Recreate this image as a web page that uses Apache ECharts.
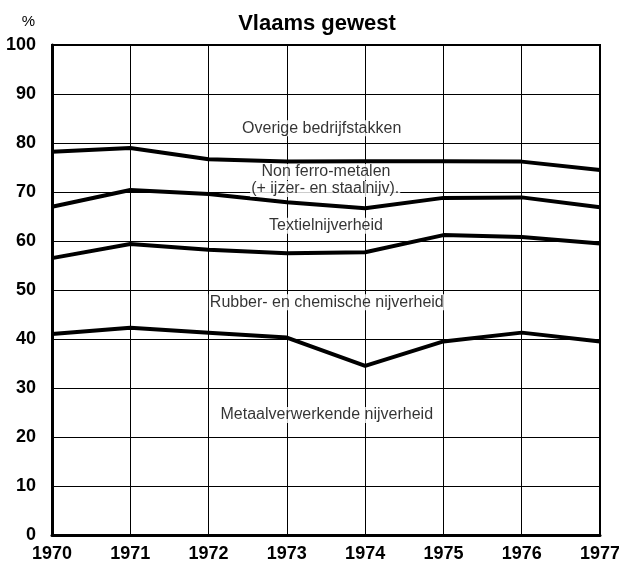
<!DOCTYPE html>
<html>
<head>
<meta charset="utf-8">
<script src="https://cdn.jsdelivr.net/npm/echarts@6/dist/echarts.min.js"></script>
<style>
  html, body { margin: 0; padding: 0; background: #fff; }
  #chart { width: 619px; height: 565px; }
</style>
</head>
<body>
<div id="chart"></div>
<script>
// jaren
var years = [1970, 1971, 1972, 1973, 1974, 1975, 1976, 1977];

// cumulatieve aandelen (%)
var lijnOverige = [78.2, 79.0, 76.7, 76.2, 76.3, 76.3, 76.2, 74.5];
var lijnNonFerro = [67.0, 70.4, 69.6, 67.9, 66.7, 68.8, 68.9, 66.9];
var lijnTextiel = [56.5, 59.4, 58.2, 57.5, 57.7, 61.2, 60.8, 59.5];
var lijnRubber = [41.0, 42.3, 41.3, 40.3, 34.5, 39.5, 41.3, 39.5];

// teksten in de vlakken: [x (jaar), y (%), tekst]
var vlakLabels = [
  [1973.445, 83.0, 'Overige bedrijfstakken'],
  [1973.5, 74.1, 'Non ferro-metalen'],
  [1973.49, 70.6, '(+ ijzer- en staalnijv).'],
  [1973.5, 63.1, 'Textielnijverheid'],
  [1973.51, 47.5, 'Rubber- en chemische nijverheid'],
  [1973.51, 24.5, 'Metaalverwerkende nijverheid']
];

function toPairs(vals) {
  return vals.map(function (v, i) { return [years[i], v]; });
}

function lijn(vals) {
  return {
    type: 'line',
    data: toPairs(vals),
    showSymbol: false,
    symbol: 'none',
    lineStyle: { color: '#000', width: 4 },
    z: 5,
    silent: true
  };
}

var series = [lijn(lijnOverige), lijn(lijnNonFerro), lijn(lijnTextiel), lijn(lijnRubber)];

series.push({
  type: 'scatter',
  symbolSize: 0,
  silent: true,
  itemStyle: { color: '#000' },
  data: vlakLabels.map(function (l) { return { value: [l[0], l[1]], name: l[2] }; }),
  label: {
    show: true,
    position: 'inside',
    formatter: '{b}',
    color: '#000',
    textBorderWidth: 0,
    fontFamily: 'Liberation Sans',
    fontSize: 16,
    backgroundColor: '#fff',
    padding: [0, 1]
  },
  z: 10
});

var chart = echarts.init(document.getElementById('chart'));
var option = {
  animation: false,
  title: {
    text: 'Vlaams gewest',
    left: 312,
    textAlign: 'center',
    top: 8,
    textStyle: { fontFamily: 'Liberation Sans', fontWeight: 'bold', fontSize: 22, color: '#000' }
  },
  grid: {
    left: 52, right: 19, top: 45, bottom: 30,
    outerBoundsMode: 'none',
    show: true, borderColor: '#000', borderWidth: 2
  },
  xAxis: {
    type: 'value',
    min: 1970, max: 1977, interval: 1,
    axisLine: { show: true, lineStyle: { color: '#000', width: 3 } },
    axisTick: { show: false },
    axisLabel: {
      color: '#000', fontFamily: 'Liberation Sans', fontWeight: 'bold', fontSize: 18,
      margin: 10,
      formatter: function (v) { return String(v); }
    },
    splitLine: { show: true, lineStyle: { color: '#000', width: 1 } }
  },
  yAxis: {
    type: 'value',
    min: 0, max: 100, interval: 10,
    name: '%',
    nameGap: 16,
    nameTextStyle: { color: '#000', fontFamily: 'Liberation Sans', fontSize: 15, align: 'right', padding: [0, 17, 0, 0] },
    axisLine: { show: true, lineStyle: { color: '#000', width: 3 } },
    axisTick: { show: false },
    axisLabel: { color: '#000', fontFamily: 'Liberation Sans', fontWeight: 'bold', fontSize: 18, margin: 16 },
    splitLine: { show: true, lineStyle: { color: '#000', width: 1 } }
  },
  series: series
};
chart.setOption(option);
</script>
</body>
</html>
